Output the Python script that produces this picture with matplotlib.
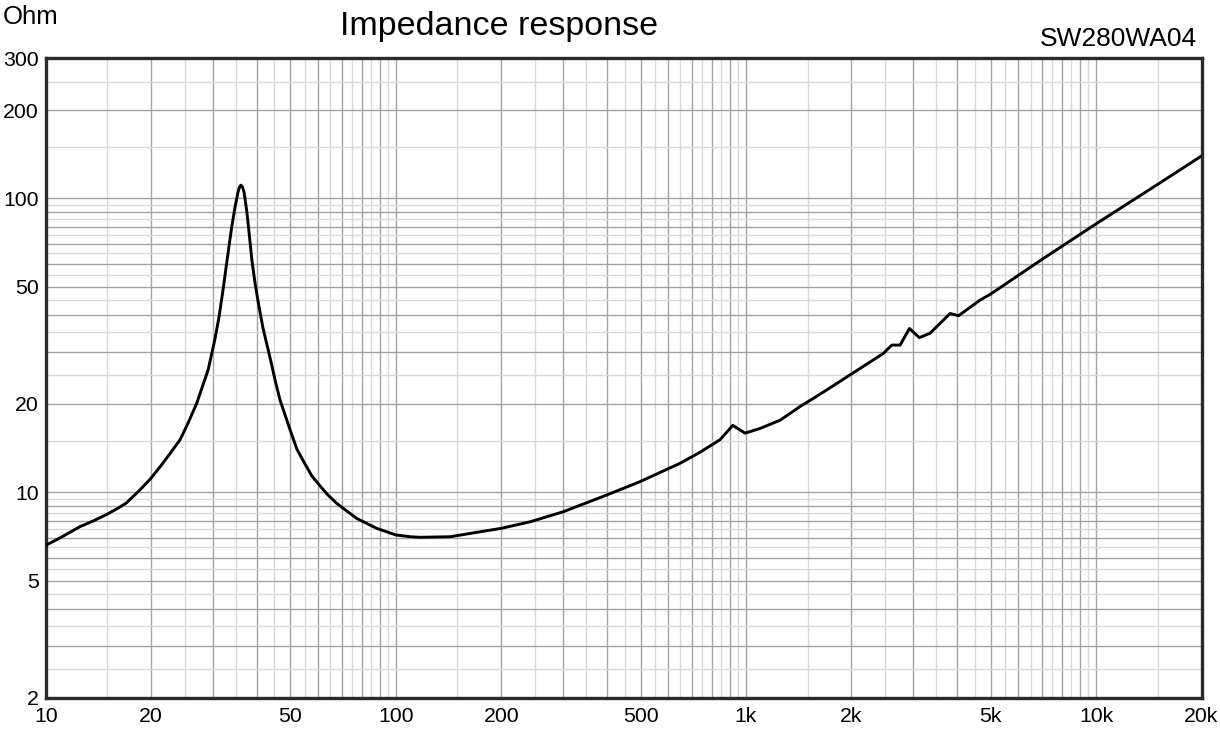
"""
Impedance response SW280WA04 (log-log, Ohm vs Hz)
"""
import numpy as np
import matplotlib
matplotlib.use('Agg')
import matplotlib.pyplot as plt
from matplotlib.ticker import FixedLocator, FuncFormatter

plt.rcParams['font.family'] = ['Liberation Sans', 'DejaVu Sans']

# ── 数据: 从曲线读取 (Hz, Ohm) ──
freq_hz = [10, 11, 12.5, 13.7, 15, 16, 17, 18.6, 19.9, 21.2, 22.6, 24.2,
           25.5, 27.0, 29.1, 30.4,
           31.26, 32.09, 32.73, 33.39, 34.05, 34.73, 35.43, 35.75, 36.1,
           36.45, 36.85, 37.5, 38.08, 38.8, 39.61, 40.5, 41.75, 42.87, 44.0,
           45.2, 46.7, 49.9, 52.2, 55.0, 57.6, 60.8, 64.0, 67.8, 77.3, 88.2,
           100, 110, 117, 143, 174, 200, 242, 301, 400, 498, 648, 740, 843,
           917, 994, 1098, 1252, 1340, 1428, 1550, 1700, 1983, 2469, 2608,
           2756, 2930, 3129, 3356, 3828, 4045, 4663, 5000, 7000, 10000,
           14000, 20000]
impedance_ohm = [6.6, 7.0, 7.63, 8.0, 8.43, 8.8, 9.2, 10.2, 11.1, 12.2, 13.5,
                 15.1, 17.2, 20.1, 26.1, 33.0,
                 39.5, 48.8, 58.0, 68.9, 81.2, 93.5, 105.2, 109.3, 111,
                 109.5, 105.2, 91.0, 76.9, 61.7, 51.6, 44.0, 36.2, 31.7, 27.8,
                 24.1, 20.6, 16.3, 14.0, 12.5, 11.36, 10.5, 9.79, 9.17, 8.15,
                 7.54, 7.16, 7.06, 7.03, 7.06, 7.34, 7.54, 7.94, 8.59,
                 9.79, 10.87, 12.55, 13.7, 15.1, 16.9, 15.9, 16.5, 17.6, 18.6,
                 19.6, 20.8, 22.3, 25.1, 29.7, 31.7, 31.7, 36.1, 33.6, 34.8,
                 40.6, 39.9, 45.1, 47.3, 62.0, 82.0, 106, 139.5]

x_labels = {10: '10', 20: '20', 50: '50', 100: '100', 200: '200', 500: '500',
            1000: '1k', 2000: '2k', 5000: '5k', 10000: '10k', 20000: '20k'}
y_labels = {2: '2', 5: '5', 10: '10', 20: '20', 50: '50', 100: '100',
            200: '200', 300: '300'}

X_MIN, X_MAX = 10, 20000
Y_MIN, Y_MAX = 2, 300
GRID_DARK = '#a3a3a3'
GRID_LIGHT = '#d9d9d9'


def grid_positions(lo, hi):
    """深色: k*10^n, 浅色: (k+0.5)*10^n."""
    dark, light = [], []
    for e in range(-1, 6):
        d = 10.0 ** e
        for k in range(1, 10):
            dark.append(k * d)
            light.append((k + 0.5) * d)
    dark = [v for v in dark if lo <= v <= hi]
    light = [v for v in light if lo <= v <= hi]
    return dark, light


def main():
    fig = plt.figure(figsize=(12.2, 7.3), dpi=100)
    ax = fig.add_axes([45.7 / 1220, 1 - 697.7 / 730,
                       (1201.5 - 45.7) / 1220, (697.7 - 58.3) / 730])

    ax.set_xscale('log')
    ax.set_yscale('log')
    ax.set_xlim(X_MIN, X_MAX)
    ax.set_ylim(Y_MIN, Y_MAX)

    xd, xl = grid_positions(X_MIN, X_MAX)
    yd, yl = grid_positions(Y_MIN, Y_MAX)
    ax.xaxis.set_major_locator(FixedLocator(xd))
    ax.xaxis.set_minor_locator(FixedLocator(xl))
    ax.yaxis.set_major_locator(FixedLocator(yd))
    ax.yaxis.set_minor_locator(FixedLocator(yl))

    def fmt(labels):
        def f(v, pos):
            for key, txt in labels.items():
                if abs(v - key) / key < 1e-6:
                    return txt
            return ''
        return FuncFormatter(f)

    ax.xaxis.set_major_formatter(fmt(x_labels))
    ax.yaxis.set_major_formatter(fmt(y_labels))
    ax.xaxis.set_minor_formatter(FuncFormatter(lambda v, p: ''))
    ax.yaxis.set_minor_formatter(FuncFormatter(lambda v, p: ''))

    ax.grid(which='major', color=GRID_DARK, lw=1.0)
    ax.grid(which='minor', color=GRID_LIGHT, lw=1.0)
    ax.set_axisbelow(True)

    ax.tick_params(which='both', length=0, labelsize=15.3, colors='black')
    ax.tick_params(axis='x', pad=7)
    ax.tick_params(axis='y', pad=5)

    for s in ax.spines.values():
        s.set_color('#2a2a2a')
        s.set_linewidth(2.4)

    ax.plot(freq_hz, impedance_ohm, color='black', lw=2.1,
            solid_joinstyle='round', solid_capstyle='round', zorder=3)

    fig.text(499 / 1220, 1 - 27 / 730, 'Impedance response',
             ha='center', va='center', fontsize=24.5)
    fig.text(3 / 1220, 1 - 17 / 730, 'Ohm', ha='left', va='center',
             fontsize=18.5)
    fig.text(1197 / 1220, 1 - 39 / 730, 'SW280WA04', ha='right',
             va='center', fontsize=19)

    fig.savefig('out.png', dpi=100)
    plt.close(fig)


if __name__ == '__main__':
    main()
